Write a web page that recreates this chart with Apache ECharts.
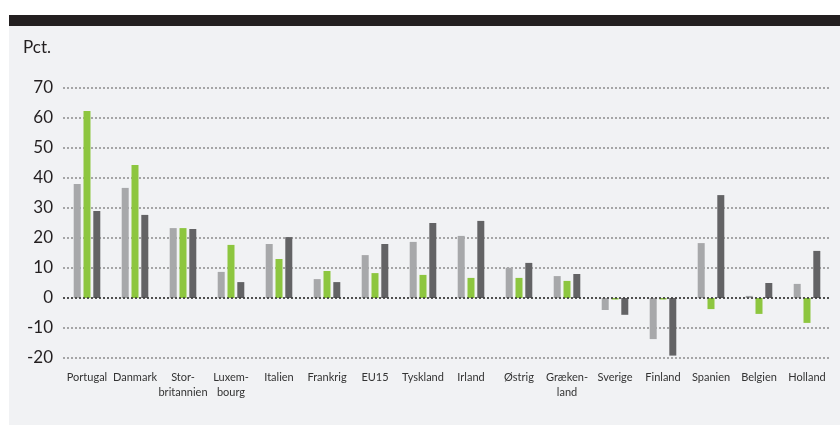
<!DOCTYPE html>
<html>
<head>
<meta charset="utf-8">
<script src="https://cdn.jsdelivr.net/npm/echarts@6/dist/echarts.min.js"></script>
<style>
  html, body { margin: 0; padding: 0; background: #ffffff; }
  #chart { width: 840px; height: 425px; }
</style>
</head>
<body>
<div id="chart"></div>
<script>
// Country labels along the category axis
const categories = ['Portugal', 'Danmark', 'Stor-\nbritannien', 'Luxem-\nbourg', 'Italien', 'Frankrig',
  'EU15', 'Tyskland', 'Irland', 'Østrig', 'Græken-\nland', 'Sverige', 'Finland', 'Spanien', 'Belgien', 'Holland'];

// Three series per country (percent)
const seriesLight = [38.0, 36.7, 23.3, 8.7, 18.0, 6.3, 14.3, 18.7, 20.7, 10.1, 7.3, -4.0, -13.7, 18.3, 0.7, 4.7];
const seriesGreen = [62.3, 44.3, 23.3, 17.7, 13.0, 9.0, 8.3, 7.7, 6.7, 6.7, 5.7, -0.5, -0.5, -3.7, -5.3, -8.3];
const seriesDark  = [29.0, 27.7, 23.0, 5.3, 20.3, 5.3, 18.0, 25.0, 25.7, 11.7, 8.0, -5.6, -19.2, 34.3, 5.0, 15.7];

// Value axis range and step
const yMin = -20, yMax = 70, yStep = 10;

const FONT = 'Lato, "Open Sans", sans-serif';
const chart = echarts.init(document.getElementById('chart'), null, { renderer: 'canvas' });

function barSeries(name, data, color, extra) {
  return Object.assign({
    name: name,
    type: 'bar',
    data: data,
    barWidth: 7,
    barGap: '40%',
    itemStyle: { color: color },
    silent: true
  }, extra || {});
}

chart.setOption({
  animation: false,
  backgroundColor: '#ffffff',
  graphic: [
    { type: 'rect', z: -10, shape: { x: 9, y: 26, width: 831, height: 399 }, style: { fill: '#f1f2f4' } },
    { type: 'rect', z: -10, shape: { x: 9, y: 15, width: 831, height: 11 }, style: { fill: '#231f20' } },
    { type: 'text', left: 23, top: 39, style: { text: 'Pct.', font: '17px ' + FONT, fill: '#231f20' } }
  ],
  grid: { left: 63, right: 9, top: 88, bottom: 67, containLabel: false },
  xAxis: {
    type: 'category',
    data: categories,
    axisLine: { show: false, onZero: false },
    axisTick: { show: false },
    axisLabel: {
      interval: 0,
      margin: 12,
      color: '#333333',
      fontFamily: FONT,
      fontSize: 11,
      lineHeight: 15,
      verticalAlign: 'top'
    }
  },
  yAxis: {
    type: 'value',
    min: yMin,
    max: yMax,
    interval: yStep,
    axisLine: { show: false },
    axisTick: { show: false },
    axisLabel: { color: '#231f20', fontFamily: FONT, fontSize: 17, margin: 10 },
    splitLine: { lineStyle: { color: '#8c8c8c', width: 1.5, type: [2, 2] } }
  },
  series: [
    barSeries('A', seriesLight, '#a7a8aa'),
    barSeries('B', seriesGreen, '#8dc63f'),
    barSeries('C', seriesDark, '#636365', {
      markLine: {
        silent: true,
        symbol: 'none',
        label: { show: false },
        lineStyle: { color: '#333333', width: 1.5, type: [2, 2] },
        data: [{ yAxis: 0 }]
      }
    })
  ]
});
</script>
</body>
</html>
